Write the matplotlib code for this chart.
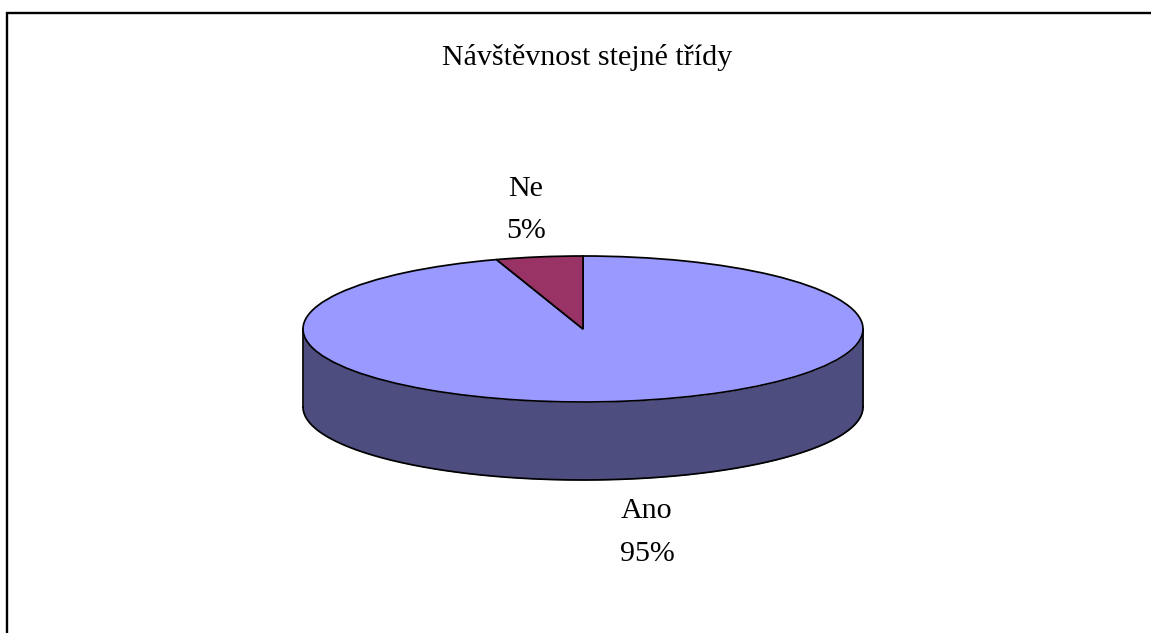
import numpy as np
import matplotlib
matplotlib.use("Agg")
import matplotlib.pyplot as plt

title = "Návštěvnost stejné třídy"
categories = ["Ano", "Ne"]
values = [95, 5]
top_colors = ["#9999FF", "#993366"]
side_color = "#4D4D80"

W, H = 1151, 633
plt.rcParams["font.family"] = ["Liberation Serif", "DejaVu Serif"]
fig = plt.figure(figsize=(W / 100, H / 100), dpi=100, facecolor="white")

# full-figure overlay in pixel space: frame and texts
bg = fig.add_axes([0, 0, 1, 1])
bg.set_xlim(0, W)
bg.set_ylim(H, 0)
bg.axis("off")
bg.plot([7.5, 7.5, W + 5], [H + 5, 13, 13], color="black", lw=1.7,
        solid_joinstyle="miter", clip_on=False)

# pie axes: data range +/-1 maps to the ellipse
cx, cy, rx, ry, depth = 583, 329, 280, 73, 78
lw = 1.25
ax = fig.add_axes([(cx - rx) / W, 1 - (cy + ry) / H, 2 * rx / W, 2 * ry / H])

# side wall, only the front half is visible
theta = np.linspace(np.pi, 2 * np.pi, 200)
d = depth / ry
ax.fill_between(np.cos(theta), np.sin(theta), np.sin(theta) - d,
                color=side_color, lw=0, clip_on=False, zorder=1)
ax.plot(np.cos(theta), np.sin(theta) - d, color="black", lw=lw, clip_on=False, zorder=2)
for sx in (-1, 1):
    ax.plot([sx, sx], [0, -d], color="black", lw=lw, clip_on=False, zorder=2)

wedges, _ = ax.pie(values, colors=top_colors, startangle=90, counterclock=True,
                   wedgeprops=dict(edgecolor="black", linewidth=lw, clip_on=False),
                   radius=1)
# the categories run clockwise from 12 o'clock
for w in wedges:
    w.set_zorder(3)
wedges[0].set_theta1(90 + 360 * values[1] / sum(values))
wedges[0].set_theta2(450)
wedges[1].set_theta1(90)
wedges[1].set_theta2(90 + 360 * values[1] / sum(values))
ax.set_aspect("auto")
ax.set_xlim(-1, 1)
ax.set_ylim(-1, 1)
ax.axis("off")

fs = 21.6
bg.text(587, 65, title, ha="center", va="baseline", fontsize=fs, color="black")
total = sum(values)
label_pos = {"Ne": (526, 196, 238), "Ano": (647, 518, 561)}
for c, v in zip(categories, values):
    x, y1, y2 = label_pos[c]
    bg.text(x, y1, c, ha="center", va="baseline", fontsize=fs, color="black")
    bg.text(x, y2, f"{100 * v / total:.0f}%", ha="center", va="baseline", fontsize=fs, color="black")

fig.savefig("out.png", dpi=100, facecolor="white")
